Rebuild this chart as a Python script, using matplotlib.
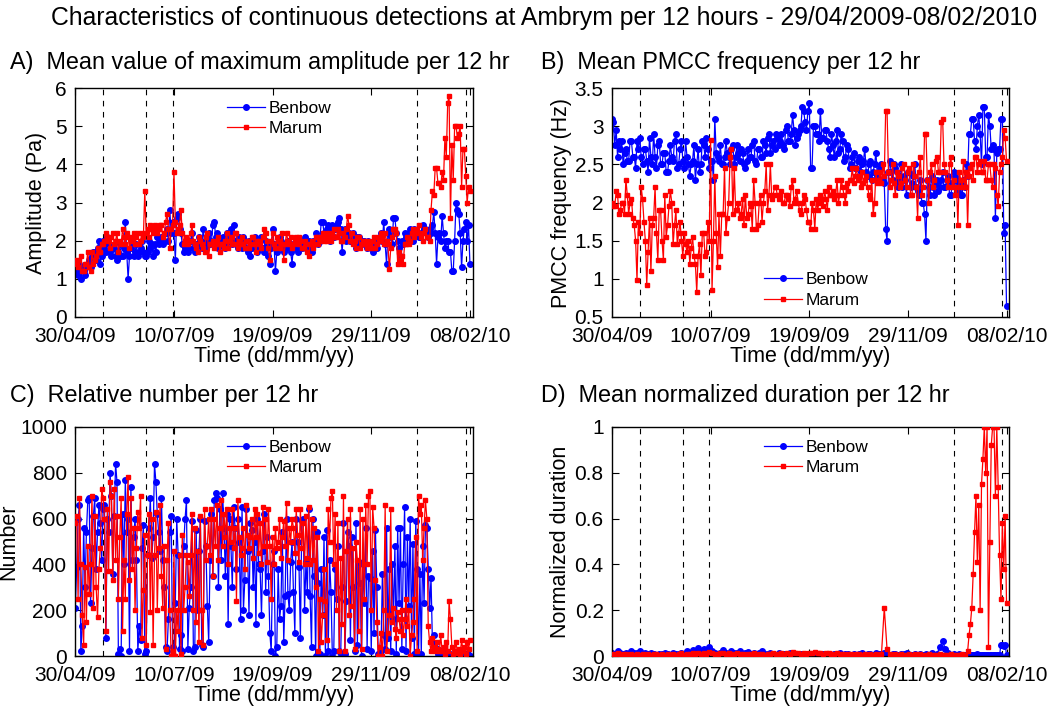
import numpy as np
import matplotlib
matplotlib.use("Agg")
import matplotlib.pyplot as plt
from datetime import date

plt.rcParams['font.family'] = ['Liberation Sans', 'DejaVu Sans']

# ---------------- data ----------------
start = date(2009, 4, 30)
days_1 = np.arange(0, 285, 1)        # panels A, B, C: one sample per day (day 0 = 30/04/09)
# panel D: every 2 days while flat, daily during the final active period
days_d = np.concatenate([np.arange(0, 256, 2), np.arange(256, 285, 1)])

tick_labels = ['30/04/09', '10/07/09', '19/09/09', '29/11/09', '08/02/10']
event_dates = [date(2009, 5, 20), date(2009, 6, 20), date(2009, 7, 9),
               date(2010, 1, 1), date(2010, 2, 5)]
xmax_date = date(2010, 2, 10)

amp_benbow = [1.3, 1.2, 1.1, 1.4, 1.0, 1.3, 1.2, 1.1, 1.3, 1.4,
              1.5, 1.3, 1.6, 1.7, 1.7, 1.5, 1.8, 2.0, 1.4, 1.6,
              2.0, 1.8, 1.7, 2.1, 1.9, 1.7, 1.6, 1.8, 1.8, 1.6,
              1.5, 1.7, 1.9, 1.6, 1.6, 1.8, 2.5, 1.7, 1.0, 1.6,
              1.8, 1.9, 1.6, 1.7, 1.9, 1.6, 1.7, 1.8, 2.0, 1.7,
              1.6, 1.6, 1.7, 2.0, 1.8, 1.9, 1.6, 1.9, 1.7, 2.1,
              1.9, 2.0, 2.1, 1.9, 2.0, 2.2, 2.3, 2.0, 2.8, 2.2,
              2.5, 2.2, 1.5, 2.6, 2.7, 2.3, 2.2, 1.9, 1.7, 1.8,
              1.9, 1.7, 1.8, 2.0, 2.2, 1.8, 1.7, 1.9, 1.9, 2.1,
              2.0, 1.8, 2.3, 2.0, 1.8, 2.1, 2.2, 1.9, 2.0, 2.4,
              2.5, 2.1, 2.2, 1.8, 1.9, 2.0, 2.1, 1.9, 1.8, 2.2,
              2.0, 2.2, 2.3, 1.9, 2.4, 2.0, 1.9, 1.8, 2.1, 1.9,
              1.8, 2.1, 2.0, 1.8, 1.7, 2.0, 1.6, 1.8, 2.0, 2.1,
              1.9, 1.7, 1.8, 2.0, 2.1, 1.8, 1.7, 2.0, 1.9, 1.6,
              1.4, 1.8, 2.3, 1.9, 1.2, 1.7, 1.8, 2.1, 2.0, 1.8,
              1.7, 1.9, 1.8, 2.0, 1.9, 1.7, 1.4, 1.9, 1.8, 2.0,
              1.7, 2.0, 1.9, 1.8, 2.0, 2.1, 1.8, 1.9, 2.0, 1.8,
              1.7, 2.0, 1.9, 2.2, 2.1, 1.9, 2.0, 2.5, 2.5, 2.2,
              2.2, 2.3, 2.4, 2.0, 2.3, 2.4, 2.1, 2.3, 2.4, 2.5,
              2.6, 2.3, 1.7, 2.2, 2.3, 2.0, 2.1, 2.2, 2.0, 2.1,
              2.2, 2.0, 1.8, 2.1, 2.1, 1.9, 1.9, 2.0, 2.0, 1.9,
              1.8, 2.0, 1.9, 1.8, 1.7, 2.0, 1.9, 1.8, 2.0, 2.1,
              2.2, 2.0, 2.5, 1.9, 1.4, 2.2, 2.3, 2.1, 1.9, 2.6,
              2.6, 2.2, 2.0, 1.8, 1.6, 2.0, 1.9, 2.2, 2.1, 2.0,
              2.2, 2.3, 2.1, 2.0, 2.3, 2.2, 2.2, 2.1, 2.1, 2.2,
              2.4, 2.3, 2.3, 2.2, 2.1, 2.3, 2.2, 2.4, 2.75, 2.2,
              1.4, 2.1, 2.2, 2.0, 2.65, 2.2, 1.8, 2.0, 2.0, 1.7,
              1.7, 1.2, 1.2, 2.0, 3.0, 2.8, 2.7, 2.2, 1.3, 2.0,
              2.3, 2.5, 2.0, 2.4, 1.4]
amp_marum = [1.5, 1.4, 1.3, 1.5, 1.6, 1.2, 1.2, 1.4, 1.4, 1.7,
             1.3, 1.2, 1.7, 1.4, 1.5, 1.6, 1.8, 1.7, 1.7, 1.9,
             1.9, 2.0, 2.2, 2.1, 2.0, 1.8, 2.1, 2.2, 1.9, 2.0,
             2.2, 1.7, 2.0, 1.9, 2.3, 2.1, 1.9, 2.2, 2.1, 1.8,
             2.0, 2.1, 2.2, 1.9, 2.1, 2.2, 1.9, 2.0, 2.2, 2.1,
             3.3, 2.2, 2.3, 2.1, 2.4, 2.3, 2.2, 2.4, 2.3, 2.2,
             2.3, 2.4, 2.4, 2.1, 2.2, 2.5, 2.7, 2.3, 1.8, 2.3,
             2.4, 3.8, 2.5, 2.2, 2.3, 2.4, 2.8, 2.2, 1.9, 2.0,
             2.1, 1.9, 2.0, 2.2, 2.4, 2.0, 1.9, 1.8, 1.7, 2.1,
             2.0, 1.9, 1.8, 1.7, 2.1, 2.2, 1.6, 1.9, 1.9, 2.0,
             1.8, 1.9, 2.0, 2.1, 1.7, 1.9, 1.9, 1.8, 2.0, 2.2,
             1.8, 2.0, 2.1, 1.9, 1.9, 2.2, 2.2, 1.8, 2.0, 1.9,
             2.1, 1.9, 1.8, 2.0, 2.0, 1.8, 1.9, 2.1, 2.1, 1.9,
             1.7, 2.0, 2.0, 1.9, 1.8, 2.1, 2.3, 2.2, 2.0, 1.8,
             1.5, 2.0, 2.2, 1.9, 1.8, 2.1, 2.0, 1.8, 1.9, 2.2,
             1.5, 1.9, 2.2, 2.0, 1.9, 2.1, 1.8, 1.9, 2.0, 2.1,
             1.9, 2.1, 2.0, 1.8, 1.8, 2.0, 1.9, 1.7, 1.6, 1.9,
             2.0, 1.8, 1.9, 2.1, 2.1, 1.9, 2.0, 2.1, 2.2, 2.0,
             2.1, 2.0, 2.2, 2.1, 2.0, 2.2, 2.3, 2.1, 2.1, 2.3,
             2.2, 2.0, 2.0, 2.2, 2.1, 2.3, 2.65, 2.4, 2.0, 2.2,
             1.9, 2.0, 1.8, 2.1, 2.1, 1.8, 1.9, 2.0, 2.0, 1.9,
             1.8, 2.0, 1.9, 1.8, 2.0, 2.1, 1.8, 1.9, 2.1, 2.0,
             2.2, 2.1, 1.9, 2.2, 2.0, 1.9, 1.25, 1.8, 2.1, 2.3,
             2.3, 2.2, 1.4, 1.7, 1.5, 1.6, 1.4, 1.9, 1.9, 2.1,
             1.9, 2.0, 2.2, 2.3, 2.1, 2.2, 2.3, 2.4, 2.2, 2.1,
             2.0, 2.2, 2.3, 2.1, 2.1, 2.0, 2.8, 3.3, 3.2, 3.9,
             3.9, 3.5, 3.5, 3.4, 3.8, 3.6, 4.7, 4.2, 5.6, 5.8,
             2.6, 4.5, 3.6, 5.0, 5.0, 4.7, 4.8, 5.0, 3.4, 4.4,
             4.4, 3.7, 3.0, 3.4, 3.3]

freq_benbow = [3.1, 3.05, 2.75, 2.95, 2.6, 2.8, 2.7, 2.8, 2.5, 2.65,
               2.7, 2.55, 2.55, 2.8, 2.8, 2.6, 2.6, 2.45, 2.8, 2.7,
               2.85, 2.6, 2.5, 2.7, 2.7, 2.55, 2.4, 2.85, 2.6, 2.5,
               2.9, 2.6, 2.45, 2.75, 2.8, 2.5, 2.5, 2.65, 2.65, 2.4,
               2.4, 2.55, 2.75, 2.6, 2.55, 2.8, 2.9, 2.45, 2.5, 2.7,
               2.8, 2.55, 2.45, 2.8, 2.6, 2.5, 2.35, 2.5, 2.55, 2.75,
               2.3, 2.5, 2.7, 2.4, 2.5, 2.8, 2.75, 2.6, 2.85, 2.7,
               2.45, 2.55, 2.55, 2.3, 3.1, 2.65, 2.6, 2.55, 2.75, 2.5,
               2.5, 2.6, 2.8, 2.65, 2.6, 2.5, 2.7, 2.75, 2.5, 2.6,
               2.75, 2.65, 2.55, 2.7, 2.65, 2.5, 2.45, 2.55, 2.7, 2.6,
               2.6, 2.75, 2.8, 2.55, 2.5, 2.7, 2.7, 2.6, 2.6, 2.8,
               2.75, 2.65, 2.85, 2.9, 2.65, 2.75, 2.8, 2.7, 2.9, 2.85,
               2.75, 2.8, 2.9, 2.75, 2.7, 2.95, 3.0, 2.8, 2.8, 2.9,
               3.15, 2.95, 2.75, 2.85, 2.9, 2.95, 3.0, 3.25, 3.2, 3.05,
               2.95, 3.2, 3.3, 2.45, 2.45, 3.0, 3.0, 2.9, 2.9, 2.8,
               3.2, 2.85, 2.85, 2.95, 2.95, 2.8, 2.7, 2.6, 2.9, 2.75,
               2.6, 2.8, 2.95, 2.65, 2.7, 2.9, 2.8, 2.55, 2.6, 2.75,
               2.7, 2.45, 2.5, 2.6, 2.65, 2.45, 2.45, 2.55, 2.6, 2.4,
               2.5, 2.55, 2.7, 2.4, 2.35, 2.5, 2.55, 2.3, 2.4, 2.5,
               2.65, 2.35, 2.3, 2.45, 2.5, 2.3, 2.25, 1.65, 1.5, 2.4,
               2.55, 2.4, 2.3, 2.5, 2.45, 2.3, 2.2, 2.35, 2.5, 2.2,
               2.35, 2.3, 2.1, 2.4, 2.4, 2.2, 2.25, 2.35, 2.5, 2.2,
               2.15, 2.1, 2.3, 2.0, 2.0, 1.85, 1.5, 2.3, 2.2, 2.1,
               2.35, 2.2, 2.1, 2.25, 2.3, 2.15, 2.2, 2.3, 2.4, 2.2,
               2.2, 2.3, 2.35, 2.1, 2.1, 2.25, 2.4, 2.35, 2.3, 2.15,
               2.25, 2.1, 2.1, 2.3, 2.2, 2.5, 2.35, 2.9, 2.9, 3.1,
               3.1, 2.8, 2.7, 3.0, 3.15, 2.9, 2.5, 3.25, 3.25, 2.6,
               2.6, 3.15, 3.0, 2.7, 2.75, 2.7, 1.8, 2.65, 2.7, 2.7,
               3.1, 3.1, 1.6, 1.7, 0.65]
freq_marum = [2.0, 1.95, 1.95, 2.15, 2.1, 1.85, 1.9, 2.0, 2.0, 1.85,
              2.3, 2.1, 1.85, 2.0, 2.05, 1.8, 1.7, 1.5, 0.98, 1.75,
              1.6, 2.2, 2.05, 1.75, 1.5, 0.92, 1.35, 1.8, 1.1, 1.7,
              1.8, 2.2, 1.6, 1.25, 1.9, 1.9, 1.5, 1.25, 2.1, 1.55,
              1.7, 1.95, 2.15, 2.0, 1.45, 1.7, 1.9, 1.45, 1.6, 1.75,
              1.5, 1.3, 1.6, 1.45, 1.35, 1.5, 1.2, 1.4, 1.55, 1.3,
              1.2, 0.83, 1.3, 1.45, 1.05, 1.6, 1.6, 1.3, 1.35, 1.75,
              1.5, 2.82, 0.85, 1.5, 2.35, 1.6, 1.15, 1.85, 1.3, 1.85,
              1.85, 2.45, 1.6, 1.8, 2.0, 2.6, 2.7, 1.85, 2.45, 1.9,
              1.9, 2.0, 1.8, 1.85, 2.05, 1.7, 2.1, 1.8, 1.85, 2.0,
              1.95, 1.65, 2.3, 2.0, 1.65, 1.7, 2.0, 2.1, 1.75, 2.0,
              2.15, 2.5, 1.9, 2.1, 2.5, 2.05, 2.1, 2.2, 2.2, 2.1,
              2.05, 2.1, 2.15, 2.0, 2.0, 2.1, 2.1, 2.05, 1.95, 2.2,
              2.3, 2.0, 2.05, 2.15, 2.0, 1.9, 1.85, 2.0, 2.1, 2.05,
              1.9, 1.75, 1.75, 1.65, 2.0, 1.9, 1.65, 2.05, 1.9, 2.0,
              2.1, 2.05, 1.95, 2.15, 2.05, 1.9, 2.2, 2.1, 2.1, 2.15,
              2.05, 2.1, 2.3, 2.0, 2.1, 2.3, 2.2, 2.1, 2.0, 2.25,
              2.15, 2.3, 2.3, 2.45, 2.25, 2.35, 2.45, 2.3, 2.35, 2.2,
              2.4, 2.25, 2.3, 2.35, 2.2, 2.1, 2.05, 2.3, 1.85, 2.0,
              2.4, 2.25, 2.3, 2.4, 2.25, 2.5, 2.35, 3.2, 3.2, 2.4,
              2.2, 2.3, 2.5, 2.25, 2.1, 2.4, 2.35, 2.2, 2.25, 2.45,
              2.5, 2.3, 2.2, 2.4, 2.45, 2.1, 2.1, 2.5, 2.35, 2.2,
              1.8, 2.4, 2.6, 2.1, 2.2, 2.9, 2.9, 2.3, 2.0, 2.4,
              2.5, 2.2, 2.3, 2.55, 2.6, 2.4, 2.4, 3.05, 3.1, 2.5,
              2.4, 2.3, 2.2, 2.5, 2.6, 2.2, 2.3, 2.1, 2.2, 1.7,
              2.4, 2.3, 2.2, 2.55, 2.2, 2.4, 1.7, 2.35, 2.45, 2.5,
              2.3, 2.6, 2.6, 2.4, 2.5, 2.55, 2.4, 2.4, 2.55, 2.3,
              2.3, 2.5, 2.5, 2.3, 2.2, 2.5, 2.45, 2.1, 1.95, 2.4,
              2.5, 2.6, 2.95, 2.85, 2.55]

num_benbow = [210, 390, 600, 660, 20, 130, 560, 300, 540, 680,
              690, 230, 470, 610, 690, 380, 540, 660, 580, 420,
              640, 660, 80, 600, 540, 800, 700, 360, 610, 840,
              760, 10, 30, 0, 620, 400, 770, 540, 600, 20,
              740, 420, 520, 600, 420, 20, 130, 70, 470, 570,
              10, 20, 440, 560, 690, 430, 520, 840, 760, 620,
              540, 460, 690, 420, 300, 40, 20, 160, 540, 610,
              40, 0, 230, 600, 440, 30, 90, 20, 480, 600,
              680, 30, 210, 300, 590, 20, 40, 550, 200, 460,
              600, 50, 40, 590, 480, 220, 60, 420, 620, 350,
              680, 710, 690, 300, 640, 420, 710, 560, 350, 620,
              140, 600, 480, 300, 650, 560, 380, 600, 500, 160,
              650, 200, 330, 640, 460, 180, 580, 550, 300, 500,
              140, 600, 400, 380, 180, 460, 620, 280, 520, 350,
              100, 20, 400, 460, 0, 40, 380, 160, 220, 540,
              60, 260, 600, 270, 200, 410, 500, 280, 100, 600,
              500, 390, 80, 590, 600, 200, 410, 280, 640, 260,
              40, 600, 350, 0, 540, 320, 10, 380, 180, 520,
              0, 550, 20, 420, 280, 0, 20, 380, 250, 480,
              20, 10, 300, 580, 10, 240, 540, 480, 70, 520,
              300, 20, 580, 50, 410, 320, 0, 400, 230, 560,
              30, 350, 340, 20, 460, 100, 550, 300, 10, 0,
              20, 360, 90, 30, 560, 80, 380, 20, 400, 160,
              480, 10, 560, 230, 560, 30, 400, 650, 20, 520,
              220, 600, 80, 490, 10, 590, 380, 0, 360, 10,
              480, 230, 570, 560, 380, 210, 340, 60, 90, 40,
              30, 10, 20, 10, 0, 30, 5, 10, 0, 5,
              10, 5, 0, 8, 5, 12, 3, 0, 6, 10,
              5, 0, 8, 5, 0]
num_marum = [580, 610, 250, 690, 400, 180, 50, 390, 150, 480,
             270, 400, 700, 210, 610, 300, 170, 380, 470, 730,
             690, 600, 110, 640, 370, 760, 700, 330, 730, 420,
             610, 250, 520, 690, 110, 420, 250, 620, 780, 330,
             690, 380, 560, 200, 470, 630, 560, 700, 80, 290,
             530, 50, 440, 620, 190, 600, 50, 440, 630, 200,
             470, 660, 350, 210, 480, 30, 420, 580, 200, 0,
             20, 460, 0, 200, 110, 440, 10, 530, 200, 300,
             440, 410, 260, 440, 620, 200, 560, 150, 460, 60,
             610, 200, 50, 640, 420, 480, 600, 440, 640, 350,
             600, 480, 660, 420, 560, 680, 480, 620, 520, 640,
             400, 560, 500, 640, 470, 560, 240, 680, 520, 440,
             470, 560, 380, 660, 530, 470, 520, 600, 430, 640,
             520, 620, 450, 580, 400, 650, 480, 600, 410, 640,
             480, 250, 520, 400, 560, 470, 500, 600, 430, 520,
             590, 480, 670, 420, 560, 500, 600, 560, 450, 640,
             530, 410, 640, 470, 580, 400, 610, 430, 650, 400,
             600, 420, 560, 300, 520, 20, 250, 60, 180, 380,
             240, 70, 640, 500, 690, 720, 400, 620, 200, 580,
             20, 430, 140, 700, 20, 460, 600, 180, 640, 220,
             470, 30, 500, 420, 110, 640, 30, 600, 250, 660,
             400, 700, 720, 200, 650, 560, 330, 150, 0, 40,
             100, 0, 200, 660, 20, 100, 180, 640, 150, 210,
             120, 80, 190, 160, 110, 200, 90, 160, 250, 130,
             200, 0, 90, 150, 250, 520, 20, 700, 620, 660,
             420, 560, 680, 600, 130, 60, 20, 80, 40, 20,
             60, 30, 20, 90, 20, 40, 10, 60, 20, 240,
             160, 40, 10, 20, 60, 15, 30, 10, 70, 20,
             40, 10, 60, 30, 70]

dur_benbow = [0.015, 0.01, 0.02, 0.012, 0.008, 0.015, 0.01, 0.02, 0.012, 0.015,
              0.02, 0.01, 0.015, 0.008, 0.012, 0.01, 0.006, 0.01, 0.008, 0.012,
              0.01, 0.006, 0.012, 0.008, 0.01, 0.015, 0.01, 0.02, 0.012, 0.025,
              0.02, 0.035, 0.015, 0.03, 0.012, 0.04, 0.02, 0.015, 0.01, 0.012,
              0.025, 0.015, 0.01, 0.02, 0.012, 0.015, 0.02, 0.01, 0.012, 0.018,
              0.01, 0.015, 0.008, 0.012, 0.02, 0.01, 0.008, 0.012, 0.01, 0.006,
              0.012, 0.008, 0.01, 0.006, 0.012, 0.01, 0.008, 0.006, 0.01, 0.004,
              0.008, 0.005, 0.01, 0.004, 0.008, 0.006, 0.01, 0.005, 0.008, 0.006,
              0.01, 0.008, 0.012, 0.006, 0.01, 0.008, 0.005, 0.01, 0.006, 0.008,
              0.012, 0.006, 0.008, 0.01, 0.005, 0.012, 0.008, 0.01, 0.015, 0.008,
              0.006, 0.01, 0.008, 0.005, 0.01, 0.008, 0.012, 0.006, 0.004, 0.008,
              0.006, 0.01, 0.005, 0.008, 0.004, 0.012, 0.006, 0.01, 0.04, 0.065,
              0.03, 0.012, 0.006, 0.01, 0.005, 0.008, 0.004, 0.006,
              0.005, 0.003, 0.006, 0.004, 0.005, 0.003, 0.006, 0.008, 0.004, 0.005,
              0.003, 0.006, 0.004, 0.005, 0.003, 0.004, 0.006, 0.003, 0.005, 0.004,
              0.006, 0.003, 0.005, 0.004, 0.05, 0.05, 0.045, 0.05, 0.005]
dur_marum = [0.01, 0.008, 0.012, 0.006, 0.01, 0.008, 0.005, 0.01, 0.006, 0.008,
             0.006, 0.01, 0.005, 0.008, 0.006, 0.01, 0.007, 0.005, 0.008, 0.006,
             0.008, 0.005, 0.01, 0.006, 0.008, 0.012, 0.006, 0.01, 0.008, 0.012,
             0.01, 0.015, 0.008, 0.012, 0.01, 0.018, 0.012, 0.01, 0.008, 0.012,
             0.015, 0.01, 0.012, 0.008, 0.01, 0.012, 0.008, 0.01, 0.006, 0.01,
             0.008, 0.012, 0.006, 0.01, 0.008, 0.006, 0.01, 0.008, 0.012, 0.01,
             0.008, 0.012, 0.01, 0.015, 0.01, 0.018, 0.012, 0.015, 0.01, 0.012,
             0.01, 0.015, 0.012, 0.018, 0.015, 0.012, 0.01, 0.015, 0.012, 0.01,
             0.008, 0.012, 0.01, 0.008, 0.006, 0.01, 0.008, 0.006, 0.01, 0.008,
             0.006, 0.008, 0.005, 0.01, 0.006, 0.008, 0.005, 0.01, 0.21, 0.03,
             0.008, 0.006, 0.01, 0.005, 0.008, 0.006, 0.004, 0.008, 0.006, 0.01,
             0.005, 0.008, 0.006, 0.004, 0.008, 0.005, 0.006, 0.004, 0.008, 0.005,
             0.006, 0.004, 0.008, 0.005, 0.006, 0.004, 0.008, 0.006,
             0.02, 0.09, 0.14, 0.21, 0.36, 0.54, 0.7, 0.41, 0.66, 0.2,
             0.75, 0.86, 1.0, 0.8, 1.0, 0.04, 0.5, 0.92, 1.0, 1.0,
             0.7, 1.0, 0.74, 0.44, 0.25, 0.58, 0.38, 0.61, 0.23]

# ---------------- figure ----------------
W, H = 1051, 706
fig = plt.figure(figsize=(W / 100, H / 100), dpi=100)

def tday(d):
    return (d - start).days

tick_days = [tday(date(2000 + int(s[6:]), int(s[3:5]), int(s[:2]))) for s in tick_labels]
event_days = [tday(d) for d in event_dates]
xmax = tday(xmax_date)

FS = 15.5
TFS = 15
panels = [
    dict(rect=(75.3, 88, 472.7, 317), title='A)  Mean value of maximum amplitude per 12 hr', tpos=(10, 62),
         x=days_1, b=amp_benbow, m=amp_marum, ylim=(0, 6), yticks=[0, 1, 2, 3, 4, 5, 6],
         yfmt=['0', '1', '2', '3', '4', '5', '6'], ylabel='Amplitude (Pa)', ylx=47, leg='upper'),
    dict(rect=(612, 88, 1009.3, 317), title='B)  Mean PMCC frequency per 12 hr', tpos=(541, 62),
         x=days_1, b=freq_benbow, m=freq_marum, ylim=(0.5, 3.5), yticks=[0.5, 1, 1.5, 2, 2.5, 3, 3.5],
         yfmt=['0.5', '1', '1.5', '2', '2.5', '3', '3.5'], ylabel='PMCC frequency (Hz)', ylx=572, leg='lower'),
    dict(rect=(75.3, 427, 472.7, 656), title='C)  Relative number per 12 hr', tpos=(10, 395),
         x=days_1, b=num_benbow, m=num_marum, ylim=(0, 1000), yticks=[0, 200, 400, 600, 800, 1000],
         yfmt=['0', '200', '400', '600', '800', '1000'], ylabel='Number', ylx=19, leg='upper'),
    dict(rect=(612, 427, 1009.3, 656), title='D)  Mean normalized duration per 12 hr', tpos=(541, 395),
         x=days_d, b=dur_benbow, m=dur_marum, ylim=(0, 1), yticks=[0, 0.2, 0.4, 0.6, 0.8, 1],
         yfmt=['0', '0.2', '0.4', '0.6', '0.8', '1'], ylabel='Normalized duration', ylx=571, leg='upper'),
]

for p in panels:
    x0, y0, x1, y1 = p['rect']
    ax = fig.add_axes([x0 / W, 1 - y1 / H, (x1 - x0) / W, (y1 - y0) / H])
    for ed in event_days:
        ax.axvline(ed, color='black', lw=0.8, ls=(0, (5, 5)), zorder=1)
    xb = p['x'][:len(p['b'])]
    xm = p['x'][:len(p['m'])]
    ax.plot(xb, p['b'][:len(xb)], '-o', color='#0000ff', lw=0.9, ms=4.0, mec='#0000ff', label='Benbow', zorder=2)
    ax.plot(xm, p['m'][:len(xm)], '-s', color='#ff0000', lw=0.9, ms=3.5, mec='#ff0000', label='Marum', zorder=3)
    ax.set_xlim(0, xmax)
    ax.set_ylim(*p['ylim'])
    ax.set_xticks(tick_days)
    ax.set_xticklabels(tick_labels)
    ax.set_yticks(p['yticks'])
    ax.set_yticklabels(p['yfmt'])
    ax.tick_params(direction='in', top=True, right=True, length=5, width=0.8, labelsize=TFS)
    ax.tick_params(axis='x', pad=7)
    ax.tick_params(axis='y', pad=6)
    for s in ax.spines.values():
        s.set_linewidth(1.0)
    ax.set_xlabel('Time (dd/mm/yy)', fontsize=FS, labelpad=0)
    ax.set_ylabel(p['ylabel'], fontsize=FS)
    ax.yaxis.set_label_coords((p['ylx'] - x0) / (x1 - x0), 0.5)
    legkw = dict(frameon=False, fontsize=12.5, handlelength=2.2, handletextpad=0.2,
                 labelspacing=0.3, borderaxespad=0.0, borderpad=0.0)
    if p['leg'] == 'upper':
        ax.legend(loc='upper left', bbox_to_anchor=(0.382, 0.945), **legkw)
    else:
        ax.legend(loc='lower left', bbox_to_anchor=(0.383, 0.04), **legkw)
    fig.text(p['tpos'][0] / W, 1 - p['tpos'][1] / H, p['title'], fontsize=16.8, va='center', ha='left')

fig.text(544 / W, 1 - 18 / H,
         'Characteristics of continuous detections at Ambrym per 12 hours - 29/04/2009-08/02/2010',
         fontsize=17.8, ha='center', va='center')

fig.savefig('out.png', dpi=100)
